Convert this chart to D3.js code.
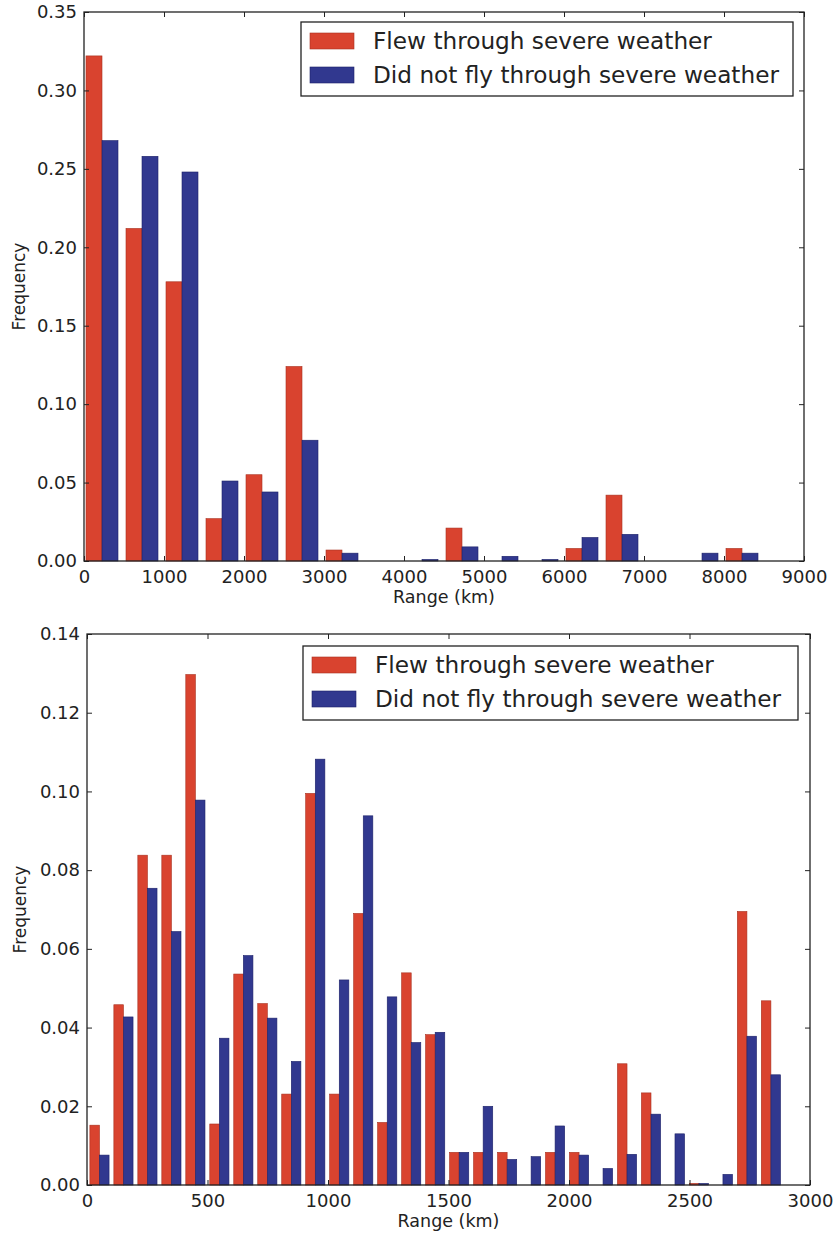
<!DOCTYPE html>
<html>
<head>
<meta charset="utf-8">
<script src="https://cdn.jsdelivr.net/npm/d3@7"></script>
<style>
  html, body { margin: 0; padding: 0; background: #fff; }
  svg { display: block; font-family: "DejaVu Sans", sans-serif; }
</style>
</head>
<body>
<svg id="chart" width="835" height="1234"></svg>
<script>
// Series labels and colours
const seriesNames = ["Flew through severe weather", "Did not fly through severe weather"];
const seriesColors = ["#d9432f", "#31388f"];
const seriesEdges = ["#a8301f", "#1c2168"];

// Upper panel: all flight ranges, 500 km bins
const rangeBinStartA = -25;
const rangeBinWidthA = 500;
const flewA =    [0.322, 0.212, 0.178, 0.027, 0.055, 0.124, 0.007, 0, 0,     0.021, 0,     0,     0.008, 0.042, 0, 0,     0.008];
const notFlewA = [0.268, 0.258, 0.248, 0.051, 0.044, 0.077, 0.005, 0, 0.001, 0.009, 0.003, 0.001, 0.015, 0.017, 0, 0.005, 0.005];
const xTicksA = [0, 1000, 2000, 3000, 4000, 5000, 6000, 7000, 8000, 9000];
const yTicksA = [0, 0.05, 0.10, 0.15, 0.20, 0.25, 0.30, 0.35];

// Lower panel: ranges under 3000 km, ~100 km bins
const rangeBinStartB = 2;
const rangeBinWidthB = 99.5;
const flewB =    [0.0152, 0.0458, 0.0838, 0.0838, 0.1297, 0.0155, 0.0536, 0.0461, 0.0231, 0.0995,
                  0.0231, 0.0690, 0.0159, 0.0539, 0.0382, 0.0083, 0.0083, 0.0083, 0,      0.0083,
                  0.0083, 0,      0.0308, 0.0234, 0,      0.0004, 0,      0.0695, 0.0468];
const notFlewB = [0.0076, 0.0427, 0.0754, 0.0644, 0.0978, 0.0373, 0.0583, 0.0424, 0.0314, 0.1082,
                  0.0521, 0.0938, 0.0478, 0.0362, 0.0388, 0.0083, 0.0200, 0.0065, 0.0072, 0.0150,
                  0.0076, 0.0042, 0.0078, 0.0180, 0.0130, 0.0004, 0.0027, 0.0378, 0.0280];
const xTicksB = [0, 500, 1000, 1500, 2000, 2500, 3000];
const yTicksB = [0, 0.02, 0.04, 0.06, 0.08, 0.10, 0.12, 0.14];

const svg = d3.select("#chart");
const textColor = "#222";

function drawPanel(cfg) {
  const x = d3.scaleLinear().domain(cfg.xDomain).range([cfg.left, cfg.right]);
  const y = d3.scaleLinear().domain(cfg.yDomain).range([cfg.bottom, cfg.top]);
  const g = svg.append("g");

  // histogram bars: two series side by side, 80% of each bin
  const bins = cfg.series[0].map((_, i) => ({ i, edge: cfg.binStart + i * cfg.binWidth }));
  cfg.series.forEach((vals, s) => {
    g.append("g").selectAll("rect")
      .data(bins.filter(b => vals[b.i] > 0))
      .join("rect")
      .attr("x", b => x(b.edge + cfg.binWidth * (0.1 + 0.4 * s)))
      .attr("width", b => x(b.edge + cfg.binWidth * 0.4) - x(b.edge))
      .attr("y", b => y(vals[b.i]))
      .attr("height", b => y(0) - y(vals[b.i]))
      .attr("fill", seriesColors[s])
      .attr("stroke", seriesEdges[s])
      .attr("stroke-width", 0.6);
  });

  const tl = 5;
  // axes with inward ticks on all four sides
  const bottomAx = d3.axisBottom(x).tickValues(cfg.xTicks).tickSize(-tl).tickPadding(9)
    .tickFormat(d3.format("d"));
  const topAx = d3.axisTop(x).tickValues(cfg.xTicks).tickSize(-tl).tickFormat("");
  const leftAx = d3.axisLeft(y).tickValues(cfg.yTicks).tickSize(-tl).tickPadding(7)
    .tickFormat(d3.format(".2f"));
  const rightAx = d3.axisRight(y).tickValues(cfg.yTicks).tickSize(-tl).tickFormat("");

  const axes = [
    g.append("g").attr("transform", `translate(0,${cfg.bottom})`).call(bottomAx),
    g.append("g").attr("transform", `translate(0,${cfg.top})`).call(topAx),
    g.append("g").attr("transform", `translate(${cfg.left},0)`).call(leftAx),
    g.append("g").attr("transform", `translate(${cfg.right},0)`).call(rightAx)
  ];
  axes.forEach(a => {
    a.select(".domain").remove();
    a.selectAll(".tick line").attr("stroke", textColor).attr("stroke-width", 1);
    a.selectAll(".tick text").attr("fill", textColor).attr("font-size", 18)
      .attr("font-family", "DejaVu Sans, sans-serif");
  });
  axes[0].selectAll(".tick text").attr("dy", "0.72em");

  // frame
  g.append("rect")
    .attr("x", cfg.left).attr("y", cfg.top)
    .attr("width", cfg.right - cfg.left).attr("height", cfg.bottom - cfg.top)
    .attr("fill", "none").attr("stroke", textColor).attr("stroke-width", 1.3);

  // axis titles
  g.append("text")
    .attr("x", (cfg.left + cfg.right) / 2).attr("y", cfg.bottom + 42)
    .attr("text-anchor", "middle").attr("font-size", 17.5).attr("fill", textColor)
    .text("Range (km)");
  g.append("text")
    .attr("transform", `translate(${cfg.yTitleX},${(cfg.top + cfg.bottom) / 2}) rotate(-90)`)
    .attr("text-anchor", "middle").attr("font-size", 17).attr("fill", textColor)
    .text("Frequency");

  // legend
  const L = cfg.legend;
  g.append("rect")
    .attr("x", L.x).attr("y", L.y).attr("width", L.w).attr("height", L.h)
    .attr("fill", "#fff").attr("stroke", textColor).attr("stroke-width", 1.3);
  seriesNames.forEach((name, s) => {
    const rowY = L.y + 11 + s * 34;
    g.append("rect")
      .attr("x", L.x + 9).attr("y", rowY).attr("width", 44).attr("height", 16)
      .attr("fill", seriesColors[s]).attr("stroke", seriesEdges[s]).attr("stroke-width", 0.6);
    g.append("text")
      .attr("x", L.x + 72).attr("y", rowY + 16)
      .attr("font-size", 23.2).attr("fill", textColor)
      .text(name);
  });
}

drawPanel({
  left: 84, right: 804, top: 12, bottom: 561,
  xDomain: [0, 9000], yDomain: [0, 0.35],
  binStart: rangeBinStartA, binWidth: rangeBinWidthA,
  series: [flewA, notFlewA],
  xTicks: xTicksA, yTicks: yTicksA,
  yTitleX: 25,
  legend: { x: 301, y: 22, w: 492, h: 74 }
});

drawPanel({
  left: 87, right: 810, top: 634, bottom: 1185,
  xDomain: [0, 3000], yDomain: [0, 0.14],
  binStart: rangeBinStartB, binWidth: rangeBinWidthB,
  series: [flewB, notFlewB],
  xTicks: xTicksB, yTicks: yTicksB,
  yTitleX: 26,
  legend: { x: 303, y: 646, w: 495, h: 74 }
});
</script>
</body>
</html>
